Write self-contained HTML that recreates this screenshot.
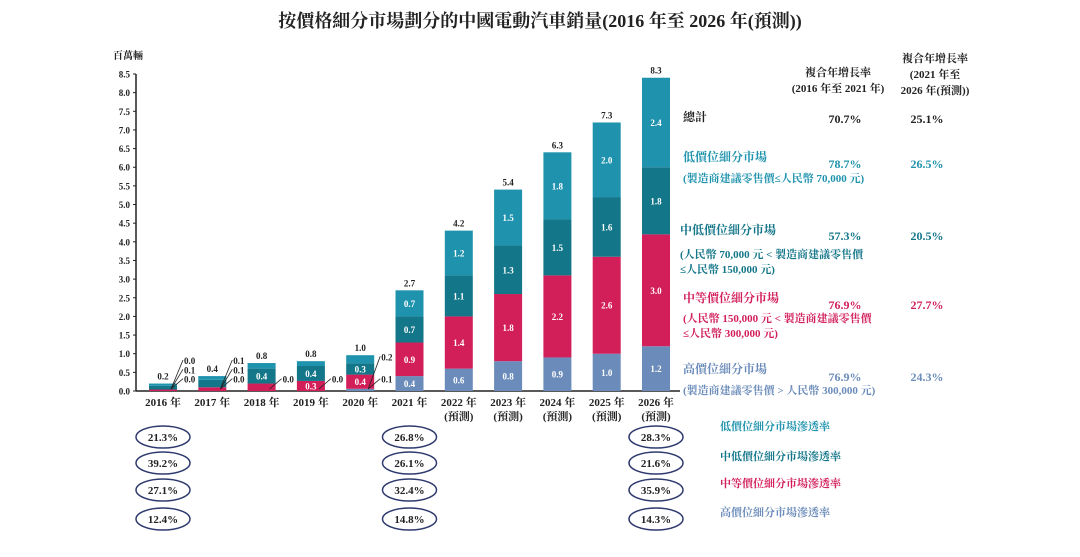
<!DOCTYPE html>
<html><head><meta charset="utf-8">
<style>
html,body{margin:0;padding:0;background:#fff;}
svg{display:block;font-family:"Liberation Serif","Noto Serif CJK SC",serif;font-weight:bold;}
</style></head>
<body>
<svg id="chart" width="1080" height="557" viewBox="0 0 1080 557">
<text x="540" y="27" text-anchor="middle" font-size="18" fill="#222">按價格細分市場劃分的中國電動汽車銷量(2016 年至 2026 年(預測))</text>
<text x="113" y="59" font-size="10" fill="#222">百萬輛</text>
<g id="axes"></g>
<g id="bars"></g>
<g id="pen"></g>
<g font-size="11">
<text x="838" y="76" text-anchor="middle" fill="#222">複合年增長率</text>
<text x="838" y="92" text-anchor="middle" fill="#222">(2016 年至 2021 年)</text>
<text x="935" y="62" text-anchor="middle" fill="#222">複合年增長率</text>
<text x="935" y="78" text-anchor="middle" fill="#222">(2021 年至</text>
<text x="935" y="94" text-anchor="middle" fill="#222">2026 年(預測))</text>
<text x="683" y="121" font-size="12" fill="#222">總計</text>
<text x="845" y="123" text-anchor="middle" font-size="12" fill="#222">70.7%</text>
<text x="927" y="123" text-anchor="middle" font-size="12" fill="#222">25.1%</text>
<text x="683" y="161" font-size="12" fill="#1f93ad">低價位細分市場</text>
<text x="845" y="168" text-anchor="middle" font-size="12" fill="#1f93ad">78.7%</text>
<text x="927" y="168" text-anchor="middle" font-size="12" fill="#1f93ad">26.5%</text>
<text x="683" y="182" font-size="11" fill="#1f93ad">(製造商建議零售價≤人民幣 70,000 元)</text>
<text x="680" y="234" font-size="12" fill="#137689">中低價位細分市場</text>
<text x="845" y="240" text-anchor="middle" font-size="12" fill="#137689">57.3%</text>
<text x="927" y="240" text-anchor="middle" font-size="12" fill="#137689">20.5%</text>
<text x="680" y="258" font-size="11" fill="#137689">(人民幣 70,000 元 &lt; 製造商建議零售價</text>
<text x="680" y="273" font-size="11" fill="#137689">≤人民幣 150,000 元)</text>
<text x="683" y="302" font-size="12" fill="#d21f5a">中等價位細分市場</text>
<text x="845" y="309" text-anchor="middle" font-size="12" fill="#d21f5a">76.9%</text>
<text x="927" y="309" text-anchor="middle" font-size="12" fill="#d21f5a">27.7%</text>
<text x="683" y="322" font-size="11" fill="#d21f5a">(人民幣 150,000 元 &lt; 製造商建議零售價</text>
<text x="683" y="337" font-size="11" fill="#d21f5a">≤人民幣 300,000 元)</text>
<text x="683" y="373" font-size="12" fill="#6b8cba">高價位細分市場</text>
<text x="845" y="381" text-anchor="middle" font-size="12" fill="#6b8cba">76.9%</text>
<text x="927" y="381" text-anchor="middle" font-size="12" fill="#6b8cba">24.3%</text>
<text x="683" y="394" font-size="11" fill="#6b8cba">(製造商建議零售價 &gt; 人民幣 300,000 元)</text>
</g>
<g font-size="11">
<text x="720" y="430" fill="#1f93ad">低價位細分市場滲透率</text>
<text x="720" y="460" fill="#137689">中低價位細分市場滲透率</text>
<text x="720" y="487" fill="#d21f5a">中等價位細分市場滲透率</text>
<text x="720" y="516" fill="#6b8cba">高價位細分市場滲透率</text>
</g>
</svg>
<script>
const years=["2016 年","2017 年","2018 年","2019 年","2020 年","2021 年","2022 年","2023 年","2024 年","2025 年","2026 年"];
const forecast=[false,false,false,false,false,false,true,true,true,true,true];
const highVals=[0.0,0.0,0.0,0.0,0.06,0.4,0.6,0.8,0.9,1.0,1.2];
const midVals=[0.04,0.1,0.2,0.27,0.38,0.9,1.4,1.8,2.2,2.6,3.0];
const midLowVals=[0.1,0.2,0.4,0.4,0.3,0.7,1.1,1.3,1.5,1.6,1.8];
const lowVals=[0.06,0.1,0.15,0.13,0.22,0.7,1.2,1.5,1.8,2.0,2.4];
const totals=[0.2,0.4,0.8,0.8,1.0,2.7,4.2,5.4,6.3,7.3,8.3];
const calloutLabels=[["0.0","0.1","0.0"],["0.1","0.1","0.0"],["0.0"],["0.0"],["0.2","0.1"],[],[],[],[],[],[]];
const calloutLevels=[[0.75,0.5,0.25],[0.75,0.5,0.25],[0.25],[0.25],[0.85,0.25],[],[],[],[],[],[]];
const yTicks=[0,0.5,1,1.5,2,2.5,3,3.5,4,4.5,5,5.5,6,6.5,7,7.5,8,8.5];
const penYears=["2016 年","2021 年","2026 年"];
const penLow=["21.3%","26.8%","28.3%"];
const penMidLow=["39.2%","26.1%","21.6%"];
const penMid=["27.1%","32.4%","35.9%"];
const penHigh=["12.4%","14.8%","14.3%"];

const NS="http://www.w3.org/2000/svg";
const x0=136,yBase=391,yTop=74,yMax=8.5,firstC=163,step=49.3,bw=28;
const yS=v=>yBase-(v/yMax)*(yBase-yTop);
const xS=i=>firstC+i*step;
function mk(tag,attrs,parent,txt){const e=document.createElementNS(NS,tag);for(const k in attrs)e.setAttribute(k,attrs[k]);if(txt!==undefined)e.textContent=txt;parent.appendChild(e);return e;}
const axes=document.getElementById('axes'),bars=document.getElementById('bars'),pen=document.getElementById('pen');

let ax=mk('line',{x1:x0,y1:yTop,x2:x0,y2:yBase,stroke:'#222','stroke-width':1.5},axes);


let xl=mk('line',{x1:x0,y1:yBase,x2:680,y2:yBase,stroke:'#222','stroke-width':1.5},axes);


yTicks.forEach(t=>{
  mk('line',{x1:x0-3,y1:yS(t),x2:x0,y2:yS(t),stroke:'#222'},axes);
  const tx=mk('text',{x:x0-6,y:yS(t)+3.5,'text-anchor':'end','font-size':9,fill:'#222'},axes,t.toFixed(1));
  
  
});

const series=[
 {vals:highVals,color:'#6b8cba',name:'high'},
 {vals:midVals,color:'#d21f5a',name:'mid'},
 {vals:midLowVals,color:'#137689',name:'mid-low'},
 {vals:lowVals,color:'#1f93ad',name:'low'}];
years.forEach((y,i)=>{
  const cx=xS(i);let cum=0;
  series.forEach(s=>{
    const v=s.vals[i];const y1=yS(cum+v),y0=yS(cum);
    const r=mk('rect',{x:cx-bw/2,y:y1,width:bw,height:Math.max(0,y0-y1),fill:s.color},bars);
    
    
    if(y0-y1>9)mk('text',{x:cx,y:(y0+y1)/2+3.5,'text-anchor':'middle','font-size':9,fill:'#fff'},bars,v.toFixed(1));
    cum+=v;
  });
  calloutLabels[i].forEach((lab,k)=>{
    const ly=yS(calloutLevels[i][k]);
    mk('line',{x1:cx+bw/2-6,y1:yBase-2,x2:cx+bw/2+6,y2:ly-3,stroke:'#222','stroke-width':0.8},bars);
    mk('text',{x:cx+bw/2+7,y:ly+1,'font-size':9,fill:'#222'},bars,lab);
  });
  const tt=mk('text',{x:cx,y:yS(cum)-4,'text-anchor':'middle','font-size':9,fill:'#222'},bars,totals[i].toFixed(1));
  
  
  const xt=mk('text',{x:cx,y:406,'text-anchor':'middle','font-size':11,fill:'#222'},bars,y);
  
  
  if(forecast[i])mk('text',{x:cx,y:420,'text-anchor':'middle','font-size':11,fill:'#222'},bars,'(預測)');
});

const rows=[penLow,penMidLow,penMid,penHigh],rowY=[437,463,490,519];
penYears.forEach((py,j)=>{
  const idx=years.indexOf(py);const cx=xS(idx);
  rows.forEach((r,k)=>{
    const e=mk('ellipse',{cx:cx,cy:rowY[k],rx:27,ry:11,fill:'none',stroke:'#2e3a6e','stroke-width':1.5},pen);
    
    
    mk('text',{x:cx,y:rowY[k]+4,'text-anchor':'middle','font-size':11,fill:'#222'},pen,r[j]);
  });
});
</script>
</body></html>
